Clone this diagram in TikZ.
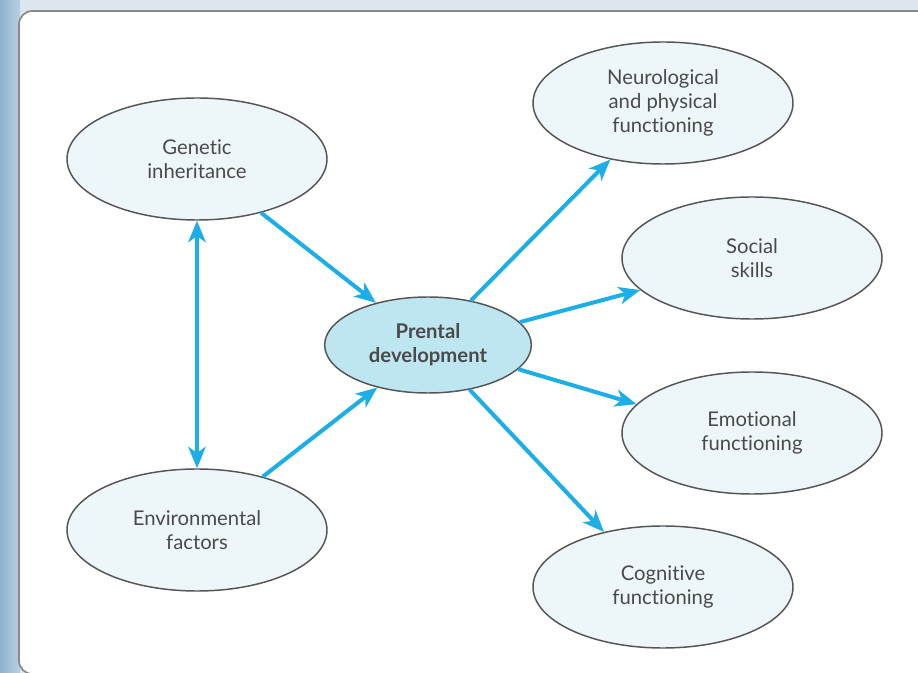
\documentclass[tikz,border=0pt]{standalone}
\usepackage{fontspec}
\setmainfont{Lato}[Ligatures={NoCommon}]
\usetikzlibrary{shapes.geometric,arrows.meta}
\definecolor{pagebg}{HTML}{DCE7EF}
\definecolor{stripdark}{HTML}{8FB2CF}
\definecolor{striplight}{HTML}{B9D0E2}
\definecolor{panelrule}{HTML}{8A8A8A}
\definecolor{bubblefill}{HTML}{EDF6F9}
\definecolor{hubfill}{HTML}{BEE6F1}
\definecolor{bubbleline}{HTML}{555555}
\definecolor{labeltext}{HTML}{4A4A4A}
\definecolor{arrowcyan}{HTML}{1CAEE6}
\begin{document}
\begin{tikzpicture}[x=0.75pt,y=-0.75pt,
  bubble/.style={ellipse, draw=bubbleline, line width=1.1pt, fill=bubblefill,
    minimum width=195pt, minimum height=91.5pt, inner sep=0pt, align=center,
    text=labeltext, font=\fontsize{15.2pt}{17.8pt}\selectfont},
  hub/.style={bubble, fill=hubfill, minimum width=155pt, minimum height=72pt,
    font=\bfseries\fontsize{15.2pt}{17.8pt}\selectfont},
  tip/.style={Stealth[length=16pt,width=13pt,inset=4.5pt]},
  link/.style={draw=arrowcyan, line width=3pt, -{Stealth[length=16pt,width=13pt,inset=4.5pt]}},
  twoway/.style={link, {Stealth[length=16pt,width=13pt,inset=4.5pt]}-{Stealth[length=16pt,width=13pt,inset=4.5pt]}}]
\useasboundingbox (0,0) rectangle (918,673);
% page behind the panel
\fill[pagebg] (0,0) rectangle (918,673);
\shade[left color=stripdark, right color=striplight] (0,0) rectangle (20,673);
% white panel
\draw[panelrule, line width=1.3pt, fill=white, rounded corners=10pt] (19,11) rectangle (960,674);

% nodes
\node[bubble] (gen) at (197,159) {Genetic\\inheritance};
\node[bubble] (env) at (197,530) {Environmental\\factors};
\node[hub]    (pd)  at (428,345) {Prental\\development};
\node[bubble] (neu) at (663,103) {Neurological\\and physical\\functioning};
\node[bubble] (soc) at (752,258) {Social\\skills};
\node[bubble] (emo) at (752,433) {Emotional\\functioning};
\node[bubble] (cog) at (663,587) {Cognitive\\functioning};

% connectors
\draw[link] (gen.-40) -- (pd.141);
\draw[link] (env.39) -- (pd.220);
\draw[twoway] (gen.south) -- (env.north);
\draw[link] (pd.46) -- (neu.-133);
\draw[link] (pd.14) -- (soc.-164);
\draw[link] (pd.-15) -- (emo.166);
\draw[link] (pd.-47) -- (cog.137);
\end{tikzpicture}
\end{document}
